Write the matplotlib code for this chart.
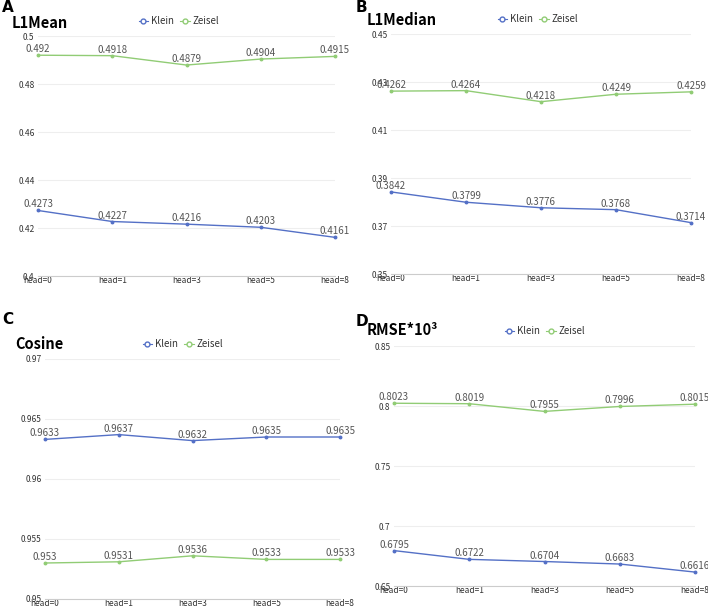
import matplotlib.pyplot as plt
from matplotlib.lines import Line2D

plt.rcParams['font.family'] = ['Noto Sans CJK SC', 'DejaVu Sans']

heads = ['head=0', 'head=1', 'head=3', 'head=5', 'head=8']

l1mean_klein = [0.4273, 0.4227, 0.4216, 0.4203, 0.4161]
l1mean_zeisel = [0.492, 0.4918, 0.4879, 0.4904, 0.4915]

l1median_klein = [0.3842, 0.3799, 0.3776, 0.3768, 0.3714]
l1median_zeisel = [0.4262, 0.4264, 0.4218, 0.4249, 0.4259]

cosine_klein = [0.9633, 0.9637, 0.9632, 0.9635, 0.9635]
cosine_zeisel = [0.953, 0.9531, 0.9536, 0.9533, 0.9533]

rmse_klein = [0.6795, 0.6722, 0.6704, 0.6683, 0.6616]
rmse_zeisel = [0.8023, 0.8019, 0.7955, 0.7996, 0.8015]

W, H = 708, 610
BLUE = '#5470c6'
GREEN = '#91cc75'

fig = plt.figure(figsize=(W / 100, H / 100), dpi=100)


def px_axes(x0, x1, ytop, ybot):
    return fig.add_axes([x0 / W, 1 - ybot / H, (x1 - x0) / W, (ybot - ytop) / H])


# panel: letter, title, axes box (px), y range, ticks, data, letter/title/legend positions
panels = [
    ('A', 'L1Mean', (38, 335, 36, 276), (0.4, 0.5), [0.4, 0.42, 0.44, 0.46, 0.48, 0.5],
     l1mean_klein, l1mean_zeisel, (2, 8), (12, 23), (179, 21)),
    ('B', 'L1Median', (391, 691, 34, 274), (0.35, 0.45), [0.35, 0.37, 0.39, 0.41, 0.43, 0.45],
     l1median_klein, l1median_zeisel, (356, 7), (367, 20), (538, 19)),
    ('C', 'Cosine', (45, 340, 359, 599), (0.95, 0.97), [0.95, 0.955, 0.96, 0.965, 0.97],
     cosine_klein, cosine_zeisel, (2, 320), (15, 344), (183, 344)),
    ('D', 'RMSE*10³', (394, 695, 346, 586), (0.65, 0.85), [0.65, 0.7, 0.75, 0.8, 0.85],
     rmse_klein, rmse_zeisel, (356, 322), (367, 330), (545, 331)),
]

for letter, title, box, ylim, yticks, klein, zeisel, lpos, tpos, legpos in panels:
    ax = px_axes(*box)
    x = range(len(heads))
    ax.plot(x, klein, color=BLUE, lw=1, marker='o', ms=1.8, clip_on=False)
    ax.plot(x, zeisel, color=GREEN, lw=1, marker='o', ms=1.8, clip_on=False)
    for i in x:
        ax.annotate(f'{klein[i]:g}', (i, klein[i]), xytext=(0, 6), textcoords='offset pixels',
                    ha='center', va='center', fontsize=7, color='#555555')
        ax.annotate(f'{zeisel[i]:g}', (i, zeisel[i]), xytext=(0, 6), textcoords='offset pixels',
                    ha='center', va='center', fontsize=7, color='#555555')
    ax.set_xlim(0, 4)
    ax.set_ylim(*ylim)
    ax.set_yticks(yticks)
    ax.set_yticklabels([f'{t:g}' for t in yticks])
    ax.set_xticks(list(x))
    ax.set_xticklabels(heads)
    ax.tick_params(axis='both', length=0, labelsize=6, colors='#333333', pad=2.5)
    ax.tick_params(axis='x', pad=0)
    ax.grid(axis='y', color='#eeeeee', lw=0.8)
    ax.set_axisbelow(True)
    for s in ['top', 'right', 'left']:
        ax.spines[s].set_visible(False)
    ax.spines['bottom'].set_color('#cccccc')
    ax.spines['bottom'].set_linewidth(0.8)

    fig.text(lpos[0] / W, 1 - lpos[1] / H, letter, fontsize=11, fontweight='bold',
             ha='left', va='center', family=['DejaVu Sans'])
    fig.text(tpos[0] / W, 1 - tpos[1] / H, title, fontsize=10.5, fontweight='bold',
             ha='left', va='center')
    handles = [Line2D([], [], color=BLUE, lw=0.8, marker='o', ms=3.5, mfc='white'),
               Line2D([], [], color=GREEN, lw=0.8, marker='o', ms=3.5, mfc='white')]
    fig.legend(handles, ['Klein', 'Zeisel'], loc='center', ncol=2, frameon=False,
               bbox_to_anchor=(legpos[0] / W, 1 - legpos[1] / H), fontsize=7,
               handlelength=1.0, handletextpad=0.3, columnspacing=0.6,
               labelcolor='#333333')

fig.savefig('out.png', dpi=100, facecolor='white')
